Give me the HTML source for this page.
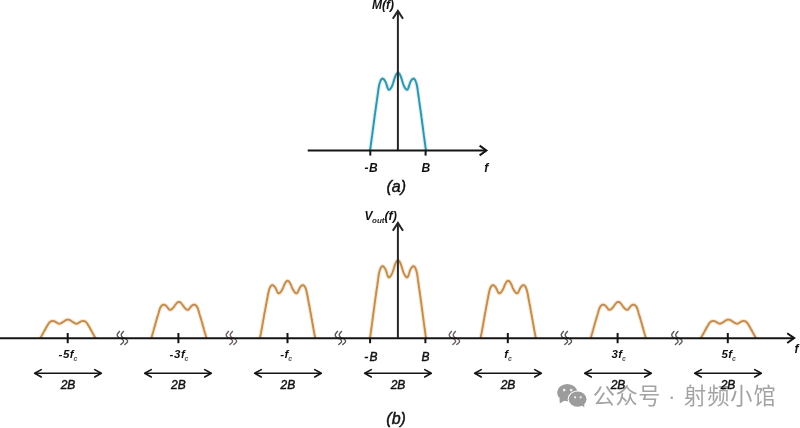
<!DOCTYPE html>
<html><head><meta charset="utf-8"><style>
html,body{margin:0;padding:0;background:#ffffff;}
body{width:800px;height:428px;overflow:hidden;position:relative;}
svg{position:absolute;left:0;top:0;filter:blur(0.35px);}
.t{font-family:"Liberation Sans",Arial,sans-serif;font-style:italic;fill:#111;}
.r{stroke:#111;stroke-width:0.45px;}
.b{font-weight:bold;}
.wm{font-family:"Liberation Sans","Noto Sans CJK SC",sans-serif;fill:#a3a3a3;}
</style></head><body>
<svg width="800" height="428" viewBox="0 0 800 428">
<rect width="800" height="428" fill="#ffffff"/>

<g fill="#9c9c9c">
  <ellipse cx="567.3" cy="392.6" rx="10.2" ry="8.7"/>
  <path d="M559.5,398.5 L559.8,403.4 L564.8,400.2 Z"/>
</g>
<ellipse cx="577.6" cy="399.2" rx="9.9" ry="8.6" fill="#ffffff"/>
<g fill="#9c9c9c">
  <ellipse cx="577.6" cy="399.2" rx="8.9" ry="7.6"/>
  <path d="M581.5,405 L584.3,407.6 L584.2,402.5 Z"/>
</g>
<g fill="#f2f2f2">
  <circle cx="564.2" cy="390.1" r="1.3"/>
  <circle cx="571.2" cy="390.1" r="1.3"/>
  <circle cx="575.1" cy="397.3" r="1.1"/>
  <circle cx="580.7" cy="397.3" r="1.1"/>
</g>

<text class="wm" y="404.4" font-size="22.2" letter-spacing="0.5"><tspan x="592.8">公众号</tspan><tspan x="668.1">·</tspan><tspan x="684" letter-spacing="1.0">射频小馆</tspan></text>
<path d="M370.0,150.5 L370.2,149.5 L370.3,148.4 L370.5,147.3 L370.6,146.3 L370.8,145.2 L370.9,144.2 L371.1,143.1 L371.2,142.1 L371.4,141.0 L371.5,140.0 L371.6,138.9 L371.8,137.8 L371.9,136.8 L372.1,135.7 L372.2,134.6 L372.4,133.6 L372.5,132.5 L372.6,131.5 L372.8,130.4 L372.9,129.3 L373.1,128.3 L373.2,127.2 L373.3,126.1 L373.5,125.1 L373.6,124.0 L373.8,123.0 L373.9,121.9 L374.0,120.8 L374.2,119.8 L374.3,118.7 L374.5,117.7 L374.6,116.6 L374.7,115.5 L374.9,114.5 L375.0,113.4 L375.2,112.4 L375.3,111.3 L375.5,110.3 L375.6,109.2 L375.8,108.2 L375.9,107.1 L376.1,106.1 L376.2,105.0 L376.4,104.0 L376.5,102.9 L376.7,101.9 L376.8,100.8 L377.0,99.7 L377.1,98.7 L377.3,97.6 L377.4,96.6 L377.6,95.5 L377.7,94.4 L377.9,93.3 L378.0,92.2 L378.2,91.2 L378.3,90.1 L378.5,89.0 L378.6,88.0 L378.8,87.0 L379.0,86.0 L379.2,85.0 L379.4,84.0 L379.7,83.0 L380.1,82.0 L380.5,80.8 L381.1,79.7 L381.8,78.8 L382.6,78.5 L383.5,79.0 L384.3,79.9 L385.0,80.9 L385.5,81.8 L385.9,82.7 L386.2,83.6 L386.6,84.7 L386.9,85.9 L387.3,87.2 L387.8,88.4 L388.3,89.4 L388.9,89.8 L389.6,89.6 L390.4,88.8 L391.1,87.7 L391.7,86.7 L392.2,85.7 L392.6,84.7 L392.9,83.8 L393.2,82.8 L393.5,81.9 L393.8,80.9 L394.1,79.8 L394.5,78.6 L394.9,77.4 L395.4,76.1 L395.9,75.0 L396.5,73.9 L397.1,73.2 L397.7,72.8 L398.3,72.8 L398.9,73.2 L399.5,73.9 L400.1,75.0 L400.6,76.1 L401.1,77.4 L401.5,78.6 L401.9,79.8 L402.2,80.9 L402.5,81.9 L402.8,82.8 L403.1,83.8 L403.4,84.7 L403.8,85.7 L404.3,86.7 L404.9,87.7 L405.6,88.8 L406.4,89.6 L407.1,89.8 L407.7,89.4 L408.2,88.4 L408.7,87.2 L409.1,85.9 L409.4,84.7 L409.8,83.6 L410.1,82.7 L410.5,81.8 L411.0,80.9 L411.7,79.9 L412.5,79.0 L413.4,78.5 L414.2,78.8 L414.9,79.7 L415.5,80.8 L415.9,82.0 L416.3,83.0 L416.6,84.0 L416.8,85.0 L417.0,86.0 L417.2,87.0 L417.4,88.0 L417.5,89.0 L417.7,90.1 L417.8,91.2 L418.0,92.2 L418.1,93.3 L418.3,94.4 L418.4,95.5 L418.6,96.6 L418.7,97.6 L418.9,98.7 L419.0,99.7 L419.2,100.8 L419.3,101.9 L419.5,102.9 L419.6,104.0 L419.8,105.0 L419.9,106.1 L420.1,107.1 L420.2,108.2 L420.4,109.2 L420.5,110.3 L420.7,111.3 L420.8,112.4 L421.0,113.4 L421.1,114.5 L421.3,115.5 L421.4,116.6 L421.5,117.7 L421.7,118.7 L421.8,119.8 L422.0,120.8 L422.1,121.9 L422.2,123.0 L422.4,124.0 L422.5,125.1 L422.7,126.1 L422.8,127.2 L422.9,128.3 L423.1,129.3 L423.2,130.4 L423.4,131.5 L423.5,132.5 L423.6,133.6 L423.8,134.6 L423.9,135.7 L424.1,136.8 L424.2,137.8 L424.4,138.9 L424.5,140.0 L424.6,141.0 L424.8,142.1 L424.9,143.1 L425.1,144.2 L425.2,145.2 L425.4,146.3 L425.5,147.3 L425.7,148.4 L425.8,149.5 L426.0,150.5" fill="none" stroke="#d2f2f8" stroke-width="4.2" stroke-linejoin="round"/>
<path d="M370.0,150.5 L370.2,149.5 L370.3,148.4 L370.5,147.3 L370.6,146.3 L370.8,145.2 L370.9,144.2 L371.1,143.1 L371.2,142.1 L371.4,141.0 L371.5,140.0 L371.6,138.9 L371.8,137.8 L371.9,136.8 L372.1,135.7 L372.2,134.6 L372.4,133.6 L372.5,132.5 L372.6,131.5 L372.8,130.4 L372.9,129.3 L373.1,128.3 L373.2,127.2 L373.3,126.1 L373.5,125.1 L373.6,124.0 L373.8,123.0 L373.9,121.9 L374.0,120.8 L374.2,119.8 L374.3,118.7 L374.5,117.7 L374.6,116.6 L374.7,115.5 L374.9,114.5 L375.0,113.4 L375.2,112.4 L375.3,111.3 L375.5,110.3 L375.6,109.2 L375.8,108.2 L375.9,107.1 L376.1,106.1 L376.2,105.0 L376.4,104.0 L376.5,102.9 L376.7,101.9 L376.8,100.8 L377.0,99.7 L377.1,98.7 L377.3,97.6 L377.4,96.6 L377.6,95.5 L377.7,94.4 L377.9,93.3 L378.0,92.2 L378.2,91.2 L378.3,90.1 L378.5,89.0 L378.6,88.0 L378.8,87.0 L379.0,86.0 L379.2,85.0 L379.4,84.0 L379.7,83.0 L380.1,82.0 L380.5,80.8 L381.1,79.7 L381.8,78.8 L382.6,78.5 L383.5,79.0 L384.3,79.9 L385.0,80.9 L385.5,81.8 L385.9,82.7 L386.2,83.6 L386.6,84.7 L386.9,85.9 L387.3,87.2 L387.8,88.4 L388.3,89.4 L388.9,89.8 L389.6,89.6 L390.4,88.8 L391.1,87.7 L391.7,86.7 L392.2,85.7 L392.6,84.7 L392.9,83.8 L393.2,82.8 L393.5,81.9 L393.8,80.9 L394.1,79.8 L394.5,78.6 L394.9,77.4 L395.4,76.1 L395.9,75.0 L396.5,73.9 L397.1,73.2 L397.7,72.8 L398.3,72.8 L398.9,73.2 L399.5,73.9 L400.1,75.0 L400.6,76.1 L401.1,77.4 L401.5,78.6 L401.9,79.8 L402.2,80.9 L402.5,81.9 L402.8,82.8 L403.1,83.8 L403.4,84.7 L403.8,85.7 L404.3,86.7 L404.9,87.7 L405.6,88.8 L406.4,89.6 L407.1,89.8 L407.7,89.4 L408.2,88.4 L408.7,87.2 L409.1,85.9 L409.4,84.7 L409.8,83.6 L410.1,82.7 L410.5,81.8 L411.0,80.9 L411.7,79.9 L412.5,79.0 L413.4,78.5 L414.2,78.8 L414.9,79.7 L415.5,80.8 L415.9,82.0 L416.3,83.0 L416.6,84.0 L416.8,85.0 L417.0,86.0 L417.2,87.0 L417.4,88.0 L417.5,89.0 L417.7,90.1 L417.8,91.2 L418.0,92.2 L418.1,93.3 L418.3,94.4 L418.4,95.5 L418.6,96.6 L418.7,97.6 L418.9,98.7 L419.0,99.7 L419.2,100.8 L419.3,101.9 L419.5,102.9 L419.6,104.0 L419.8,105.0 L419.9,106.1 L420.1,107.1 L420.2,108.2 L420.4,109.2 L420.5,110.3 L420.7,111.3 L420.8,112.4 L421.0,113.4 L421.1,114.5 L421.3,115.5 L421.4,116.6 L421.5,117.7 L421.7,118.7 L421.8,119.8 L422.0,120.8 L422.1,121.9 L422.2,123.0 L422.4,124.0 L422.5,125.1 L422.7,126.1 L422.8,127.2 L422.9,128.3 L423.1,129.3 L423.2,130.4 L423.4,131.5 L423.5,132.5 L423.6,133.6 L423.8,134.6 L423.9,135.7 L424.1,136.8 L424.2,137.8 L424.4,138.9 L424.5,140.0 L424.6,141.0 L424.8,142.1 L424.9,143.1 L425.1,144.2 L425.2,145.2 L425.4,146.3 L425.5,147.3 L425.7,148.4 L425.8,149.5 L426.0,150.5" fill="none" stroke="#3592a8" stroke-width="1.95" stroke-linejoin="round"/>
<line x1="397.9" y1="150.5" x2="397.9" y2="11.5" stroke="#262626" stroke-width="2.0"/>
<polyline points="392.8,18.8 397.9,10.9 403.0,18.8" fill="none" stroke="#262626" stroke-width="2.0"/>
<line x1="307.7" y1="150.5" x2="485.5" y2="150.5" stroke="#141414" stroke-width="2.0"/>
<polyline points="479.6,145.6 486.4,150.5 479.6,155.4" fill="none" stroke="#141414" stroke-width="2.0"/>
<line x1="370.3" y1="150.5" x2="370.3" y2="155.6" stroke="#141414" stroke-width="2.0"/>
<line x1="425.6" y1="150.5" x2="425.6" y2="155.6" stroke="#141414" stroke-width="2.0"/>
<path d="M40.3,338.0 L40.5,337.7 L40.7,337.3 L40.9,337.0 L41.1,336.7 L41.3,336.3 L41.5,336.0 L41.7,335.7 L41.9,335.3 L42.1,335.0 L42.3,334.7 L42.5,334.3 L42.6,334.0 L42.8,333.6 L43.0,333.3 L43.2,333.0 L43.4,332.6 L43.6,332.3 L43.8,331.9 L43.9,331.6 L44.1,331.2 L44.3,330.9 L44.5,330.6 L44.7,330.2 L44.9,329.9 L45.1,329.6 L45.3,329.2 L45.5,328.9 L45.6,328.5 L45.8,328.2 L46.0,327.9 L46.2,327.5 L46.4,327.2 L46.6,326.9 L46.8,326.5 L47.0,326.2 L47.2,325.9 L47.4,325.5 L47.6,325.2 L47.8,324.9 L48.0,324.5 L48.2,324.2 L48.4,323.9 L48.6,323.5 L48.8,323.2 L49.0,322.9 L49.3,322.6 L49.6,322.3 L49.9,322.1 L50.2,321.8 L50.5,321.6 L50.8,321.4 L51.2,321.3 L51.6,321.1 L51.9,321.1 L52.3,321.0 L52.7,321.0 L53.1,321.0 L53.5,321.1 L53.8,321.1 L54.2,321.2 L54.6,321.4 L54.9,321.5 L55.3,321.7 L55.6,321.9 L55.9,322.1 L56.3,322.3 L56.6,322.5 L56.9,322.7 L57.3,322.9 L57.6,323.1 L58.0,323.3 L58.3,323.5 L58.7,323.6 L59.0,323.6 L59.4,323.7 L59.8,323.6 L60.2,323.5 L60.5,323.4 L60.9,323.2 L61.3,323.1 L61.6,322.9 L62.0,322.7 L62.3,322.5 L62.6,322.3 L62.9,322.1 L63.2,321.8 L63.5,321.6 L63.9,321.4 L64.2,321.2 L64.5,321.0 L64.8,320.7 L65.2,320.5 L65.5,320.3 L65.9,320.1 L66.3,320.0 L66.6,319.8 L67.0,319.7 L67.3,319.6 L67.7,319.6 L68.1,319.6 L68.5,319.6 L68.8,319.7 L69.2,319.8 L69.5,320.0 L69.9,320.1 L70.3,320.3 L70.6,320.5 L71.0,320.7 L71.3,321.0 L71.6,321.2 L71.9,321.4 L72.3,321.6 L72.6,321.8 L72.9,322.1 L73.2,322.3 L73.5,322.5 L73.8,322.7 L74.2,322.9 L74.5,323.1 L74.9,323.2 L75.3,323.4 L75.6,323.5 L76.0,323.6 L76.4,323.7 L76.8,323.6 L77.1,323.6 L77.5,323.5 L77.8,323.3 L78.2,323.1 L78.5,322.9 L78.9,322.7 L79.2,322.5 L79.5,322.3 L79.9,322.1 L80.2,321.9 L80.5,321.7 L80.9,321.5 L81.2,321.4 L81.6,321.2 L82.0,321.1 L82.3,321.1 L82.7,321.0 L83.1,321.0 L83.5,321.0 L83.9,321.1 L84.2,321.1 L84.6,321.3 L85.0,321.4 L85.3,321.6 L85.6,321.8 L85.9,322.1 L86.2,322.3 L86.5,322.6 L86.8,322.9 L87.0,323.2 L87.2,323.5 L87.4,323.9 L87.6,324.2 L87.8,324.5 L88.0,324.9 L88.2,325.2 L88.4,325.5 L88.6,325.9 L88.8,326.2 L89.0,326.5 L89.2,326.9 L89.4,327.2 L89.6,327.5 L89.8,327.9 L90.0,328.2 L90.2,328.5 L90.3,328.9 L90.5,329.2 L90.7,329.6 L90.9,329.9 L91.1,330.2 L91.3,330.6 L91.5,330.9 L91.7,331.2 L91.9,331.6 L92.0,331.9 L92.2,332.3 L92.4,332.6 L92.6,333.0 L92.8,333.3 L93.0,333.6 L93.2,334.0 L93.3,334.3 L93.5,334.7 L93.7,335.0 L93.9,335.3 L94.1,335.7 L94.3,336.0 L94.5,336.3 L94.7,336.7 L94.9,337.0 L95.1,337.3 L95.3,337.7 L95.5,338.0" fill="none" stroke="#fbe9cf" stroke-width="4.2" stroke-linejoin="round"/>
<path d="M40.3,338.0 L40.5,337.7 L40.7,337.3 L40.9,337.0 L41.1,336.7 L41.3,336.3 L41.5,336.0 L41.7,335.7 L41.9,335.3 L42.1,335.0 L42.3,334.7 L42.5,334.3 L42.6,334.0 L42.8,333.6 L43.0,333.3 L43.2,333.0 L43.4,332.6 L43.6,332.3 L43.8,331.9 L43.9,331.6 L44.1,331.2 L44.3,330.9 L44.5,330.6 L44.7,330.2 L44.9,329.9 L45.1,329.6 L45.3,329.2 L45.5,328.9 L45.6,328.5 L45.8,328.2 L46.0,327.9 L46.2,327.5 L46.4,327.2 L46.6,326.9 L46.8,326.5 L47.0,326.2 L47.2,325.9 L47.4,325.5 L47.6,325.2 L47.8,324.9 L48.0,324.5 L48.2,324.2 L48.4,323.9 L48.6,323.5 L48.8,323.2 L49.0,322.9 L49.3,322.6 L49.6,322.3 L49.9,322.1 L50.2,321.8 L50.5,321.6 L50.8,321.4 L51.2,321.3 L51.6,321.1 L51.9,321.1 L52.3,321.0 L52.7,321.0 L53.1,321.0 L53.5,321.1 L53.8,321.1 L54.2,321.2 L54.6,321.4 L54.9,321.5 L55.3,321.7 L55.6,321.9 L55.9,322.1 L56.3,322.3 L56.6,322.5 L56.9,322.7 L57.3,322.9 L57.6,323.1 L58.0,323.3 L58.3,323.5 L58.7,323.6 L59.0,323.6 L59.4,323.7 L59.8,323.6 L60.2,323.5 L60.5,323.4 L60.9,323.2 L61.3,323.1 L61.6,322.9 L62.0,322.7 L62.3,322.5 L62.6,322.3 L62.9,322.1 L63.2,321.8 L63.5,321.6 L63.9,321.4 L64.2,321.2 L64.5,321.0 L64.8,320.7 L65.2,320.5 L65.5,320.3 L65.9,320.1 L66.3,320.0 L66.6,319.8 L67.0,319.7 L67.3,319.6 L67.7,319.6 L68.1,319.6 L68.5,319.6 L68.8,319.7 L69.2,319.8 L69.5,320.0 L69.9,320.1 L70.3,320.3 L70.6,320.5 L71.0,320.7 L71.3,321.0 L71.6,321.2 L71.9,321.4 L72.3,321.6 L72.6,321.8 L72.9,322.1 L73.2,322.3 L73.5,322.5 L73.8,322.7 L74.2,322.9 L74.5,323.1 L74.9,323.2 L75.3,323.4 L75.6,323.5 L76.0,323.6 L76.4,323.7 L76.8,323.6 L77.1,323.6 L77.5,323.5 L77.8,323.3 L78.2,323.1 L78.5,322.9 L78.9,322.7 L79.2,322.5 L79.5,322.3 L79.9,322.1 L80.2,321.9 L80.5,321.7 L80.9,321.5 L81.2,321.4 L81.6,321.2 L82.0,321.1 L82.3,321.1 L82.7,321.0 L83.1,321.0 L83.5,321.0 L83.9,321.1 L84.2,321.1 L84.6,321.3 L85.0,321.4 L85.3,321.6 L85.6,321.8 L85.9,322.1 L86.2,322.3 L86.5,322.6 L86.8,322.9 L87.0,323.2 L87.2,323.5 L87.4,323.9 L87.6,324.2 L87.8,324.5 L88.0,324.9 L88.2,325.2 L88.4,325.5 L88.6,325.9 L88.8,326.2 L89.0,326.5 L89.2,326.9 L89.4,327.2 L89.6,327.5 L89.8,327.9 L90.0,328.2 L90.2,328.5 L90.3,328.9 L90.5,329.2 L90.7,329.6 L90.9,329.9 L91.1,330.2 L91.3,330.6 L91.5,330.9 L91.7,331.2 L91.9,331.6 L92.0,331.9 L92.2,332.3 L92.4,332.6 L92.6,333.0 L92.8,333.3 L93.0,333.6 L93.2,334.0 L93.3,334.3 L93.5,334.7 L93.7,335.0 L93.9,335.3 L94.1,335.7 L94.3,336.0 L94.5,336.3 L94.7,336.7 L94.9,337.0 L95.1,337.3 L95.3,337.7 L95.5,338.0" fill="none" stroke="#bf8d55" stroke-width="1.95" stroke-linejoin="round"/>
<path d="M151.3,338.0 L151.5,337.5 L151.6,336.9 L151.8,336.4 L152.0,335.8 L152.1,335.3 L152.3,334.7 L152.5,334.2 L152.6,333.6 L152.8,333.1 L153.0,332.5 L153.1,332.0 L153.3,331.4 L153.4,330.9 L153.6,330.3 L153.7,329.8 L153.9,329.2 L154.0,328.7 L154.2,328.1 L154.3,327.6 L154.5,327.0 L154.7,326.5 L154.8,325.9 L155.0,325.4 L155.1,324.8 L155.3,324.3 L155.4,323.7 L155.6,323.2 L155.7,322.6 L155.9,322.1 L156.0,321.5 L156.2,321.0 L156.4,320.4 L156.5,319.9 L156.7,319.3 L156.9,318.8 L157.0,318.2 L157.2,317.7 L157.4,317.1 L157.5,316.6 L157.7,316.0 L157.9,315.5 L158.0,314.9 L158.2,314.4 L158.4,313.8 L158.5,313.3 L158.7,312.7 L158.8,312.2 L159.0,311.6 L159.1,311.1 L159.3,310.5 L159.5,310.0 L159.6,309.4 L159.8,308.9 L160.0,308.4 L160.3,307.8 L160.5,307.3 L160.8,306.8 L161.1,306.4 L161.5,305.9 L161.9,305.5 L162.3,305.1 L162.8,304.8 L163.4,304.6 L163.9,304.6 L164.5,304.8 L165.0,305.0 L165.5,305.3 L165.9,305.7 L166.3,306.0 L166.7,306.4 L167.1,306.9 L167.5,307.3 L167.8,307.8 L168.2,308.3 L168.6,308.8 L169.0,309.3 L169.5,309.6 L169.9,309.8 L170.4,309.8 L170.9,309.7 L171.5,309.4 L171.9,309.0 L172.4,308.6 L172.8,308.2 L173.2,307.7 L173.5,307.3 L173.9,306.9 L174.2,306.4 L174.5,306.0 L174.8,305.5 L175.2,305.0 L175.6,304.5 L176.0,304.0 L176.4,303.5 L176.8,303.0 L177.3,302.6 L177.7,302.3 L178.2,302.0 L178.7,301.9 L179.1,301.9 L179.6,302.0 L180.1,302.3 L180.5,302.6 L181.0,303.0 L181.4,303.5 L181.8,304.0 L182.2,304.5 L182.6,305.0 L183.0,305.5 L183.3,306.0 L183.6,306.4 L183.9,306.9 L184.3,307.3 L184.6,307.7 L185.0,308.2 L185.4,308.6 L185.9,309.0 L186.3,309.4 L186.9,309.7 L187.4,309.8 L187.9,309.8 L188.3,309.6 L188.8,309.3 L189.2,308.8 L189.6,308.3 L190.0,307.8 L190.3,307.3 L190.7,306.9 L191.1,306.4 L191.5,306.0 L191.9,305.7 L192.3,305.3 L192.8,305.0 L193.3,304.8 L193.9,304.6 L194.4,304.6 L195.0,304.8 L195.5,305.1 L195.9,305.5 L196.3,305.9 L196.7,306.4 L197.0,306.8 L197.3,307.3 L197.5,307.8 L197.8,308.4 L198.0,308.9 L198.2,309.4 L198.3,310.0 L198.5,310.5 L198.7,311.1 L198.8,311.6 L199.0,312.2 L199.1,312.7 L199.3,313.3 L199.4,313.8 L199.6,314.4 L199.8,314.9 L199.9,315.5 L200.1,316.0 L200.3,316.6 L200.4,317.1 L200.6,317.7 L200.8,318.2 L200.9,318.8 L201.1,319.3 L201.3,319.9 L201.4,320.4 L201.6,321.0 L201.8,321.5 L201.9,322.1 L202.1,322.6 L202.2,323.2 L202.4,323.7 L202.5,324.3 L202.7,324.8 L202.8,325.4 L203.0,325.9 L203.1,326.5 L203.3,327.0 L203.5,327.6 L203.6,328.1 L203.8,328.7 L203.9,329.2 L204.1,329.8 L204.2,330.3 L204.4,330.9 L204.5,331.4 L204.7,332.0 L204.8,332.5 L205.0,333.1 L205.2,333.6 L205.3,334.2 L205.5,334.7 L205.7,335.3 L205.8,335.8 L206.0,336.4 L206.2,336.9 L206.3,337.5 L206.5,338.0" fill="none" stroke="#fbe9cf" stroke-width="4.2" stroke-linejoin="round"/>
<path d="M151.3,338.0 L151.5,337.5 L151.6,336.9 L151.8,336.4 L152.0,335.8 L152.1,335.3 L152.3,334.7 L152.5,334.2 L152.6,333.6 L152.8,333.1 L153.0,332.5 L153.1,332.0 L153.3,331.4 L153.4,330.9 L153.6,330.3 L153.7,329.8 L153.9,329.2 L154.0,328.7 L154.2,328.1 L154.3,327.6 L154.5,327.0 L154.7,326.5 L154.8,325.9 L155.0,325.4 L155.1,324.8 L155.3,324.3 L155.4,323.7 L155.6,323.2 L155.7,322.6 L155.9,322.1 L156.0,321.5 L156.2,321.0 L156.4,320.4 L156.5,319.9 L156.7,319.3 L156.9,318.8 L157.0,318.2 L157.2,317.7 L157.4,317.1 L157.5,316.6 L157.7,316.0 L157.9,315.5 L158.0,314.9 L158.2,314.4 L158.4,313.8 L158.5,313.3 L158.7,312.7 L158.8,312.2 L159.0,311.6 L159.1,311.1 L159.3,310.5 L159.5,310.0 L159.6,309.4 L159.8,308.9 L160.0,308.4 L160.3,307.8 L160.5,307.3 L160.8,306.8 L161.1,306.4 L161.5,305.9 L161.9,305.5 L162.3,305.1 L162.8,304.8 L163.4,304.6 L163.9,304.6 L164.5,304.8 L165.0,305.0 L165.5,305.3 L165.9,305.7 L166.3,306.0 L166.7,306.4 L167.1,306.9 L167.5,307.3 L167.8,307.8 L168.2,308.3 L168.6,308.8 L169.0,309.3 L169.5,309.6 L169.9,309.8 L170.4,309.8 L170.9,309.7 L171.5,309.4 L171.9,309.0 L172.4,308.6 L172.8,308.2 L173.2,307.7 L173.5,307.3 L173.9,306.9 L174.2,306.4 L174.5,306.0 L174.8,305.5 L175.2,305.0 L175.6,304.5 L176.0,304.0 L176.4,303.5 L176.8,303.0 L177.3,302.6 L177.7,302.3 L178.2,302.0 L178.7,301.9 L179.1,301.9 L179.6,302.0 L180.1,302.3 L180.5,302.6 L181.0,303.0 L181.4,303.5 L181.8,304.0 L182.2,304.5 L182.6,305.0 L183.0,305.5 L183.3,306.0 L183.6,306.4 L183.9,306.9 L184.3,307.3 L184.6,307.7 L185.0,308.2 L185.4,308.6 L185.9,309.0 L186.3,309.4 L186.9,309.7 L187.4,309.8 L187.9,309.8 L188.3,309.6 L188.8,309.3 L189.2,308.8 L189.6,308.3 L190.0,307.8 L190.3,307.3 L190.7,306.9 L191.1,306.4 L191.5,306.0 L191.9,305.7 L192.3,305.3 L192.8,305.0 L193.3,304.8 L193.9,304.6 L194.4,304.6 L195.0,304.8 L195.5,305.1 L195.9,305.5 L196.3,305.9 L196.7,306.4 L197.0,306.8 L197.3,307.3 L197.5,307.8 L197.8,308.4 L198.0,308.9 L198.2,309.4 L198.3,310.0 L198.5,310.5 L198.7,311.1 L198.8,311.6 L199.0,312.2 L199.1,312.7 L199.3,313.3 L199.4,313.8 L199.6,314.4 L199.8,314.9 L199.9,315.5 L200.1,316.0 L200.3,316.6 L200.4,317.1 L200.6,317.7 L200.8,318.2 L200.9,318.8 L201.1,319.3 L201.3,319.9 L201.4,320.4 L201.6,321.0 L201.8,321.5 L201.9,322.1 L202.1,322.6 L202.2,323.2 L202.4,323.7 L202.5,324.3 L202.7,324.8 L202.8,325.4 L203.0,325.9 L203.1,326.5 L203.3,327.0 L203.5,327.6 L203.6,328.1 L203.8,328.7 L203.9,329.2 L204.1,329.8 L204.2,330.3 L204.4,330.9 L204.5,331.4 L204.7,332.0 L204.8,332.5 L205.0,333.1 L205.2,333.6 L205.3,334.2 L205.5,334.7 L205.7,335.3 L205.8,335.8 L206.0,336.4 L206.2,336.9 L206.3,337.5 L206.5,338.0" fill="none" stroke="#bf8d55" stroke-width="1.95" stroke-linejoin="round"/>
<path d="M260.0,338.0 L260.2,337.2 L260.3,336.4 L260.5,335.6 L260.6,334.8 L260.8,334.0 L260.9,333.2 L261.1,332.4 L261.2,331.6 L261.4,330.8 L261.5,330.0 L261.7,329.2 L261.8,328.4 L262.0,327.6 L262.1,326.8 L262.3,326.0 L262.4,325.2 L262.5,324.3 L262.7,323.5 L262.8,322.7 L263.0,321.9 L263.1,321.1 L263.2,320.3 L263.4,319.5 L263.5,318.7 L263.7,317.9 L263.8,317.1 L264.0,316.3 L264.1,315.5 L264.2,314.7 L264.4,313.9 L264.5,313.1 L264.7,312.3 L264.8,311.5 L265.0,310.7 L265.1,309.9 L265.3,309.0 L265.4,308.2 L265.6,307.4 L265.7,306.6 L265.9,305.8 L266.0,305.1 L266.2,304.3 L266.3,303.5 L266.5,302.7 L266.6,301.9 L266.8,301.0 L266.9,300.2 L267.1,299.4 L267.3,298.6 L267.4,297.8 L267.6,297.0 L267.7,296.2 L267.8,295.4 L268.0,294.6 L268.2,293.8 L268.3,293.0 L268.5,292.2 L268.7,291.4 L268.9,290.6 L269.1,289.8 L269.3,289.1 L269.6,288.3 L269.9,287.6 L270.3,286.8 L270.9,286.0 L271.5,285.4 L272.1,285.1 L272.8,285.2 L273.6,285.7 L274.2,286.3 L274.8,286.9 L275.2,287.5 L275.6,288.2 L276.0,288.9 L276.3,289.7 L276.7,290.5 L277.1,291.5 L277.5,292.3 L278.0,293.0 L278.6,293.3 L279.2,293.3 L279.8,292.9 L280.5,292.2 L281.0,291.5 L281.5,290.8 L282.0,290.1 L282.3,289.4 L282.6,288.7 L283.0,288.0 L283.3,287.3 L283.6,286.5 L283.9,285.7 L284.3,284.8 L284.7,283.9 L285.2,283.1 L285.7,282.3 L286.2,281.6 L286.8,281.1 L287.3,280.8 L287.9,280.8 L288.4,281.1 L289.0,281.6 L289.5,282.3 L290.0,283.1 L290.5,283.9 L290.9,284.8 L291.3,285.7 L291.6,286.5 L291.9,287.3 L292.2,288.0 L292.6,288.7 L292.9,289.4 L293.2,290.1 L293.7,290.8 L294.2,291.5 L294.7,292.2 L295.4,292.9 L296.0,293.3 L296.6,293.3 L297.2,293.0 L297.7,292.3 L298.1,291.5 L298.5,290.5 L298.9,289.7 L299.2,288.9 L299.6,288.2 L300.0,287.5 L300.4,286.9 L301.0,286.3 L301.6,285.7 L302.4,285.2 L303.1,285.1 L303.7,285.4 L304.3,286.0 L304.9,286.8 L305.3,287.6 L305.6,288.3 L305.9,289.1 L306.1,289.8 L306.3,290.6 L306.5,291.4 L306.7,292.2 L306.9,293.0 L307.0,293.8 L307.2,294.6 L307.4,295.4 L307.5,296.2 L307.6,297.0 L307.8,297.8 L307.9,298.6 L308.1,299.4 L308.3,300.2 L308.4,301.0 L308.6,301.9 L308.7,302.7 L308.9,303.5 L309.0,304.3 L309.2,305.1 L309.3,305.8 L309.5,306.6 L309.6,307.4 L309.8,308.2 L309.9,309.0 L310.1,309.9 L310.2,310.7 L310.4,311.5 L310.5,312.3 L310.7,313.1 L310.8,313.9 L311.0,314.7 L311.1,315.5 L311.2,316.3 L311.4,317.1 L311.5,317.9 L311.7,318.7 L311.8,319.5 L312.0,320.3 L312.1,321.1 L312.2,321.9 L312.4,322.7 L312.5,323.5 L312.7,324.3 L312.8,325.2 L312.9,326.0 L313.1,326.8 L313.2,327.6 L313.4,328.4 L313.5,329.2 L313.7,330.0 L313.8,330.8 L314.0,331.6 L314.1,332.4 L314.3,333.2 L314.4,334.0 L314.6,334.8 L314.7,335.6 L314.9,336.4 L315.0,337.2 L315.2,338.0" fill="none" stroke="#fbe9cf" stroke-width="4.2" stroke-linejoin="round"/>
<path d="M260.0,338.0 L260.2,337.2 L260.3,336.4 L260.5,335.6 L260.6,334.8 L260.8,334.0 L260.9,333.2 L261.1,332.4 L261.2,331.6 L261.4,330.8 L261.5,330.0 L261.7,329.2 L261.8,328.4 L262.0,327.6 L262.1,326.8 L262.3,326.0 L262.4,325.2 L262.5,324.3 L262.7,323.5 L262.8,322.7 L263.0,321.9 L263.1,321.1 L263.2,320.3 L263.4,319.5 L263.5,318.7 L263.7,317.9 L263.8,317.1 L264.0,316.3 L264.1,315.5 L264.2,314.7 L264.4,313.9 L264.5,313.1 L264.7,312.3 L264.8,311.5 L265.0,310.7 L265.1,309.9 L265.3,309.0 L265.4,308.2 L265.6,307.4 L265.7,306.6 L265.9,305.8 L266.0,305.1 L266.2,304.3 L266.3,303.5 L266.5,302.7 L266.6,301.9 L266.8,301.0 L266.9,300.2 L267.1,299.4 L267.3,298.6 L267.4,297.8 L267.6,297.0 L267.7,296.2 L267.8,295.4 L268.0,294.6 L268.2,293.8 L268.3,293.0 L268.5,292.2 L268.7,291.4 L268.9,290.6 L269.1,289.8 L269.3,289.1 L269.6,288.3 L269.9,287.6 L270.3,286.8 L270.9,286.0 L271.5,285.4 L272.1,285.1 L272.8,285.2 L273.6,285.7 L274.2,286.3 L274.8,286.9 L275.2,287.5 L275.6,288.2 L276.0,288.9 L276.3,289.7 L276.7,290.5 L277.1,291.5 L277.5,292.3 L278.0,293.0 L278.6,293.3 L279.2,293.3 L279.8,292.9 L280.5,292.2 L281.0,291.5 L281.5,290.8 L282.0,290.1 L282.3,289.4 L282.6,288.7 L283.0,288.0 L283.3,287.3 L283.6,286.5 L283.9,285.7 L284.3,284.8 L284.7,283.9 L285.2,283.1 L285.7,282.3 L286.2,281.6 L286.8,281.1 L287.3,280.8 L287.9,280.8 L288.4,281.1 L289.0,281.6 L289.5,282.3 L290.0,283.1 L290.5,283.9 L290.9,284.8 L291.3,285.7 L291.6,286.5 L291.9,287.3 L292.2,288.0 L292.6,288.7 L292.9,289.4 L293.2,290.1 L293.7,290.8 L294.2,291.5 L294.7,292.2 L295.4,292.9 L296.0,293.3 L296.6,293.3 L297.2,293.0 L297.7,292.3 L298.1,291.5 L298.5,290.5 L298.9,289.7 L299.2,288.9 L299.6,288.2 L300.0,287.5 L300.4,286.9 L301.0,286.3 L301.6,285.7 L302.4,285.2 L303.1,285.1 L303.7,285.4 L304.3,286.0 L304.9,286.8 L305.3,287.6 L305.6,288.3 L305.9,289.1 L306.1,289.8 L306.3,290.6 L306.5,291.4 L306.7,292.2 L306.9,293.0 L307.0,293.8 L307.2,294.6 L307.4,295.4 L307.5,296.2 L307.6,297.0 L307.8,297.8 L307.9,298.6 L308.1,299.4 L308.3,300.2 L308.4,301.0 L308.6,301.9 L308.7,302.7 L308.9,303.5 L309.0,304.3 L309.2,305.1 L309.3,305.8 L309.5,306.6 L309.6,307.4 L309.8,308.2 L309.9,309.0 L310.1,309.9 L310.2,310.7 L310.4,311.5 L310.5,312.3 L310.7,313.1 L310.8,313.9 L311.0,314.7 L311.1,315.5 L311.2,316.3 L311.4,317.1 L311.5,317.9 L311.7,318.7 L311.8,319.5 L312.0,320.3 L312.1,321.1 L312.2,321.9 L312.4,322.7 L312.5,323.5 L312.7,324.3 L312.8,325.2 L312.9,326.0 L313.1,326.8 L313.2,327.6 L313.4,328.4 L313.5,329.2 L313.7,330.0 L313.8,330.8 L314.0,331.6 L314.1,332.4 L314.3,333.2 L314.4,334.0 L314.6,334.8 L314.7,335.6 L314.9,336.4 L315.0,337.2 L315.2,338.0" fill="none" stroke="#bf8d55" stroke-width="1.95" stroke-linejoin="round"/>
<path d="M370.0,338.0 L370.2,337.0 L370.3,335.9 L370.5,334.9 L370.6,333.8 L370.8,332.7 L370.9,331.7 L371.1,330.6 L371.2,329.6 L371.4,328.5 L371.5,327.5 L371.6,326.4 L371.8,325.3 L371.9,324.3 L372.1,323.2 L372.2,322.2 L372.4,321.1 L372.5,320.0 L372.6,319.0 L372.8,317.9 L372.9,316.9 L373.1,315.8 L373.2,314.7 L373.3,313.7 L373.5,312.6 L373.6,311.6 L373.8,310.5 L373.9,309.4 L374.0,308.4 L374.2,307.3 L374.3,306.3 L374.5,305.2 L374.6,304.1 L374.7,303.1 L374.9,302.0 L375.0,301.0 L375.2,299.9 L375.3,298.9 L375.5,297.8 L375.6,296.8 L375.8,295.7 L375.9,294.7 L376.1,293.6 L376.2,292.6 L376.4,291.5 L376.5,290.5 L376.7,289.4 L376.8,288.4 L377.0,287.3 L377.1,286.2 L377.3,285.2 L377.4,284.1 L377.6,283.0 L377.7,282.0 L377.9,280.9 L378.0,279.8 L378.2,278.7 L378.3,277.7 L378.5,276.6 L378.6,275.6 L378.8,274.5 L379.0,273.5 L379.2,272.6 L379.4,271.6 L379.7,270.6 L380.1,269.5 L380.5,268.4 L381.1,267.3 L381.8,266.4 L382.6,266.1 L383.5,266.6 L384.3,267.5 L385.0,268.5 L385.5,269.4 L385.9,270.3 L386.2,271.2 L386.6,272.3 L386.9,273.5 L387.3,274.8 L387.8,276.0 L388.3,277.0 L388.9,277.4 L389.6,277.2 L390.4,276.4 L391.1,275.3 L391.7,274.2 L392.2,273.2 L392.6,272.3 L392.9,271.4 L393.2,270.4 L393.5,269.5 L393.8,268.5 L394.1,267.4 L394.5,266.2 L394.9,265.0 L395.4,263.7 L395.9,262.5 L396.5,261.5 L397.1,260.8 L397.7,260.4 L398.3,260.4 L398.9,260.8 L399.5,261.5 L400.1,262.5 L400.6,263.7 L401.1,265.0 L401.5,266.2 L401.9,267.4 L402.2,268.5 L402.5,269.5 L402.8,270.4 L403.1,271.4 L403.4,272.3 L403.8,273.2 L404.3,274.2 L404.9,275.3 L405.6,276.4 L406.4,277.2 L407.1,277.4 L407.7,277.0 L408.2,276.0 L408.7,274.8 L409.1,273.5 L409.4,272.3 L409.8,271.2 L410.1,270.3 L410.5,269.4 L411.0,268.5 L411.7,267.5 L412.5,266.6 L413.4,266.1 L414.2,266.4 L414.9,267.3 L415.5,268.4 L415.9,269.5 L416.3,270.6 L416.6,271.6 L416.8,272.6 L417.0,273.5 L417.2,274.5 L417.4,275.6 L417.5,276.6 L417.7,277.7 L417.8,278.7 L418.0,279.8 L418.1,280.9 L418.3,282.0 L418.4,283.0 L418.6,284.1 L418.7,285.2 L418.9,286.2 L419.0,287.3 L419.2,288.4 L419.3,289.4 L419.5,290.5 L419.6,291.5 L419.8,292.6 L419.9,293.6 L420.1,294.7 L420.2,295.7 L420.4,296.8 L420.5,297.8 L420.7,298.9 L420.8,299.9 L421.0,301.0 L421.1,302.0 L421.3,303.1 L421.4,304.1 L421.5,305.2 L421.7,306.3 L421.8,307.3 L422.0,308.4 L422.1,309.4 L422.2,310.5 L422.4,311.6 L422.5,312.6 L422.7,313.7 L422.8,314.7 L422.9,315.8 L423.1,316.9 L423.2,317.9 L423.4,319.0 L423.5,320.0 L423.6,321.1 L423.8,322.2 L423.9,323.2 L424.1,324.3 L424.2,325.3 L424.4,326.4 L424.5,327.5 L424.6,328.5 L424.8,329.6 L424.9,330.6 L425.1,331.7 L425.2,332.7 L425.4,333.8 L425.5,334.9 L425.7,335.9 L425.8,337.0 L426.0,338.0" fill="none" stroke="#fbe9cf" stroke-width="4.2" stroke-linejoin="round"/>
<path d="M370.0,338.0 L370.2,337.0 L370.3,335.9 L370.5,334.9 L370.6,333.8 L370.8,332.7 L370.9,331.7 L371.1,330.6 L371.2,329.6 L371.4,328.5 L371.5,327.5 L371.6,326.4 L371.8,325.3 L371.9,324.3 L372.1,323.2 L372.2,322.2 L372.4,321.1 L372.5,320.0 L372.6,319.0 L372.8,317.9 L372.9,316.9 L373.1,315.8 L373.2,314.7 L373.3,313.7 L373.5,312.6 L373.6,311.6 L373.8,310.5 L373.9,309.4 L374.0,308.4 L374.2,307.3 L374.3,306.3 L374.5,305.2 L374.6,304.1 L374.7,303.1 L374.9,302.0 L375.0,301.0 L375.2,299.9 L375.3,298.9 L375.5,297.8 L375.6,296.8 L375.8,295.7 L375.9,294.7 L376.1,293.6 L376.2,292.6 L376.4,291.5 L376.5,290.5 L376.7,289.4 L376.8,288.4 L377.0,287.3 L377.1,286.2 L377.3,285.2 L377.4,284.1 L377.6,283.0 L377.7,282.0 L377.9,280.9 L378.0,279.8 L378.2,278.7 L378.3,277.7 L378.5,276.6 L378.6,275.6 L378.8,274.5 L379.0,273.5 L379.2,272.6 L379.4,271.6 L379.7,270.6 L380.1,269.5 L380.5,268.4 L381.1,267.3 L381.8,266.4 L382.6,266.1 L383.5,266.6 L384.3,267.5 L385.0,268.5 L385.5,269.4 L385.9,270.3 L386.2,271.2 L386.6,272.3 L386.9,273.5 L387.3,274.8 L387.8,276.0 L388.3,277.0 L388.9,277.4 L389.6,277.2 L390.4,276.4 L391.1,275.3 L391.7,274.2 L392.2,273.2 L392.6,272.3 L392.9,271.4 L393.2,270.4 L393.5,269.5 L393.8,268.5 L394.1,267.4 L394.5,266.2 L394.9,265.0 L395.4,263.7 L395.9,262.5 L396.5,261.5 L397.1,260.8 L397.7,260.4 L398.3,260.4 L398.9,260.8 L399.5,261.5 L400.1,262.5 L400.6,263.7 L401.1,265.0 L401.5,266.2 L401.9,267.4 L402.2,268.5 L402.5,269.5 L402.8,270.4 L403.1,271.4 L403.4,272.3 L403.8,273.2 L404.3,274.2 L404.9,275.3 L405.6,276.4 L406.4,277.2 L407.1,277.4 L407.7,277.0 L408.2,276.0 L408.7,274.8 L409.1,273.5 L409.4,272.3 L409.8,271.2 L410.1,270.3 L410.5,269.4 L411.0,268.5 L411.7,267.5 L412.5,266.6 L413.4,266.1 L414.2,266.4 L414.9,267.3 L415.5,268.4 L415.9,269.5 L416.3,270.6 L416.6,271.6 L416.8,272.6 L417.0,273.5 L417.2,274.5 L417.4,275.6 L417.5,276.6 L417.7,277.7 L417.8,278.7 L418.0,279.8 L418.1,280.9 L418.3,282.0 L418.4,283.0 L418.6,284.1 L418.7,285.2 L418.9,286.2 L419.0,287.3 L419.2,288.4 L419.3,289.4 L419.5,290.5 L419.6,291.5 L419.8,292.6 L419.9,293.6 L420.1,294.7 L420.2,295.7 L420.4,296.8 L420.5,297.8 L420.7,298.9 L420.8,299.9 L421.0,301.0 L421.1,302.0 L421.3,303.1 L421.4,304.1 L421.5,305.2 L421.7,306.3 L421.8,307.3 L422.0,308.4 L422.1,309.4 L422.2,310.5 L422.4,311.6 L422.5,312.6 L422.7,313.7 L422.8,314.7 L422.9,315.8 L423.1,316.9 L423.2,317.9 L423.4,319.0 L423.5,320.0 L423.6,321.1 L423.8,322.2 L423.9,323.2 L424.1,324.3 L424.2,325.3 L424.4,326.4 L424.5,327.5 L424.6,328.5 L424.8,329.6 L424.9,330.6 L425.1,331.7 L425.2,332.7 L425.4,333.8 L425.5,334.9 L425.7,335.9 L425.8,337.0 L426.0,338.0" fill="none" stroke="#bf8d55" stroke-width="1.95" stroke-linejoin="round"/>
<path d="M480.6,338.0 L480.8,337.2 L480.9,336.4 L481.1,335.6 L481.2,334.8 L481.4,334.0 L481.5,333.2 L481.7,332.4 L481.8,331.6 L482.0,330.8 L482.1,330.0 L482.3,329.2 L482.4,328.4 L482.6,327.6 L482.7,326.8 L482.9,326.0 L483.0,325.2 L483.1,324.3 L483.3,323.5 L483.4,322.7 L483.6,321.9 L483.7,321.1 L483.8,320.3 L484.0,319.5 L484.1,318.7 L484.3,317.9 L484.4,317.1 L484.6,316.3 L484.7,315.5 L484.8,314.7 L485.0,313.9 L485.1,313.1 L485.3,312.3 L485.4,311.5 L485.6,310.7 L485.7,309.9 L485.9,309.0 L486.0,308.2 L486.2,307.4 L486.3,306.6 L486.5,305.8 L486.6,305.1 L486.8,304.3 L486.9,303.5 L487.1,302.7 L487.2,301.9 L487.4,301.0 L487.5,300.2 L487.7,299.4 L487.9,298.6 L488.0,297.8 L488.2,297.0 L488.3,296.2 L488.4,295.4 L488.6,294.6 L488.8,293.8 L488.9,293.0 L489.1,292.2 L489.3,291.4 L489.5,290.6 L489.7,289.8 L489.9,289.1 L490.2,288.3 L490.5,287.6 L490.9,286.8 L491.5,286.0 L492.1,285.4 L492.7,285.1 L493.4,285.2 L494.2,285.7 L494.8,286.3 L495.4,286.9 L495.8,287.5 L496.2,288.2 L496.6,288.9 L496.9,289.7 L497.3,290.5 L497.7,291.5 L498.1,292.3 L498.6,293.0 L499.2,293.3 L499.8,293.3 L500.4,292.9 L501.1,292.2 L501.6,291.5 L502.1,290.8 L502.6,290.1 L502.9,289.4 L503.2,288.7 L503.6,288.0 L503.9,287.3 L504.2,286.5 L504.5,285.7 L504.9,284.8 L505.3,283.9 L505.8,283.1 L506.3,282.3 L506.8,281.6 L507.4,281.1 L507.9,280.8 L508.5,280.8 L509.0,281.1 L509.6,281.6 L510.1,282.3 L510.6,283.1 L511.1,283.9 L511.5,284.8 L511.9,285.7 L512.2,286.5 L512.5,287.3 L512.8,288.0 L513.2,288.7 L513.5,289.4 L513.8,290.1 L514.3,290.8 L514.8,291.5 L515.3,292.2 L516.0,292.9 L516.6,293.3 L517.2,293.3 L517.8,293.0 L518.3,292.3 L518.7,291.5 L519.1,290.5 L519.5,289.7 L519.8,288.9 L520.2,288.2 L520.6,287.5 L521.0,286.9 L521.6,286.3 L522.2,285.7 L523.0,285.2 L523.7,285.1 L524.3,285.4 L524.9,286.0 L525.5,286.8 L525.9,287.6 L526.2,288.3 L526.5,289.1 L526.7,289.8 L526.9,290.6 L527.1,291.4 L527.3,292.2 L527.5,293.0 L527.6,293.8 L527.8,294.6 L528.0,295.4 L528.1,296.2 L528.2,297.0 L528.4,297.8 L528.5,298.6 L528.7,299.4 L528.9,300.2 L529.0,301.0 L529.2,301.9 L529.3,302.7 L529.5,303.5 L529.6,304.3 L529.8,305.1 L529.9,305.8 L530.1,306.6 L530.2,307.4 L530.4,308.2 L530.5,309.0 L530.7,309.9 L530.8,310.7 L531.0,311.5 L531.1,312.3 L531.3,313.1 L531.4,313.9 L531.6,314.7 L531.7,315.5 L531.8,316.3 L532.0,317.1 L532.1,317.9 L532.3,318.7 L532.4,319.5 L532.6,320.3 L532.7,321.1 L532.8,321.9 L533.0,322.7 L533.1,323.5 L533.3,324.3 L533.4,325.2 L533.5,326.0 L533.7,326.8 L533.8,327.6 L534.0,328.4 L534.1,329.2 L534.3,330.0 L534.4,330.8 L534.6,331.6 L534.7,332.4 L534.9,333.2 L535.0,334.0 L535.2,334.8 L535.3,335.6 L535.5,336.4 L535.6,337.2 L535.8,338.0" fill="none" stroke="#fbe9cf" stroke-width="4.2" stroke-linejoin="round"/>
<path d="M480.6,338.0 L480.8,337.2 L480.9,336.4 L481.1,335.6 L481.2,334.8 L481.4,334.0 L481.5,333.2 L481.7,332.4 L481.8,331.6 L482.0,330.8 L482.1,330.0 L482.3,329.2 L482.4,328.4 L482.6,327.6 L482.7,326.8 L482.9,326.0 L483.0,325.2 L483.1,324.3 L483.3,323.5 L483.4,322.7 L483.6,321.9 L483.7,321.1 L483.8,320.3 L484.0,319.5 L484.1,318.7 L484.3,317.9 L484.4,317.1 L484.6,316.3 L484.7,315.5 L484.8,314.7 L485.0,313.9 L485.1,313.1 L485.3,312.3 L485.4,311.5 L485.6,310.7 L485.7,309.9 L485.9,309.0 L486.0,308.2 L486.2,307.4 L486.3,306.6 L486.5,305.8 L486.6,305.1 L486.8,304.3 L486.9,303.5 L487.1,302.7 L487.2,301.9 L487.4,301.0 L487.5,300.2 L487.7,299.4 L487.9,298.6 L488.0,297.8 L488.2,297.0 L488.3,296.2 L488.4,295.4 L488.6,294.6 L488.8,293.8 L488.9,293.0 L489.1,292.2 L489.3,291.4 L489.5,290.6 L489.7,289.8 L489.9,289.1 L490.2,288.3 L490.5,287.6 L490.9,286.8 L491.5,286.0 L492.1,285.4 L492.7,285.1 L493.4,285.2 L494.2,285.7 L494.8,286.3 L495.4,286.9 L495.8,287.5 L496.2,288.2 L496.6,288.9 L496.9,289.7 L497.3,290.5 L497.7,291.5 L498.1,292.3 L498.6,293.0 L499.2,293.3 L499.8,293.3 L500.4,292.9 L501.1,292.2 L501.6,291.5 L502.1,290.8 L502.6,290.1 L502.9,289.4 L503.2,288.7 L503.6,288.0 L503.9,287.3 L504.2,286.5 L504.5,285.7 L504.9,284.8 L505.3,283.9 L505.8,283.1 L506.3,282.3 L506.8,281.6 L507.4,281.1 L507.9,280.8 L508.5,280.8 L509.0,281.1 L509.6,281.6 L510.1,282.3 L510.6,283.1 L511.1,283.9 L511.5,284.8 L511.9,285.7 L512.2,286.5 L512.5,287.3 L512.8,288.0 L513.2,288.7 L513.5,289.4 L513.8,290.1 L514.3,290.8 L514.8,291.5 L515.3,292.2 L516.0,292.9 L516.6,293.3 L517.2,293.3 L517.8,293.0 L518.3,292.3 L518.7,291.5 L519.1,290.5 L519.5,289.7 L519.8,288.9 L520.2,288.2 L520.6,287.5 L521.0,286.9 L521.6,286.3 L522.2,285.7 L523.0,285.2 L523.7,285.1 L524.3,285.4 L524.9,286.0 L525.5,286.8 L525.9,287.6 L526.2,288.3 L526.5,289.1 L526.7,289.8 L526.9,290.6 L527.1,291.4 L527.3,292.2 L527.5,293.0 L527.6,293.8 L527.8,294.6 L528.0,295.4 L528.1,296.2 L528.2,297.0 L528.4,297.8 L528.5,298.6 L528.7,299.4 L528.9,300.2 L529.0,301.0 L529.2,301.9 L529.3,302.7 L529.5,303.5 L529.6,304.3 L529.8,305.1 L529.9,305.8 L530.1,306.6 L530.2,307.4 L530.4,308.2 L530.5,309.0 L530.7,309.9 L530.8,310.7 L531.0,311.5 L531.1,312.3 L531.3,313.1 L531.4,313.9 L531.6,314.7 L531.7,315.5 L531.8,316.3 L532.0,317.1 L532.1,317.9 L532.3,318.7 L532.4,319.5 L532.6,320.3 L532.7,321.1 L532.8,321.9 L533.0,322.7 L533.1,323.5 L533.3,324.3 L533.4,325.2 L533.5,326.0 L533.7,326.8 L533.8,327.6 L534.0,328.4 L534.1,329.2 L534.3,330.0 L534.4,330.8 L534.6,331.6 L534.7,332.4 L534.9,333.2 L535.0,334.0 L535.2,334.8 L535.3,335.6 L535.5,336.4 L535.6,337.2 L535.8,338.0" fill="none" stroke="#bf8d55" stroke-width="1.95" stroke-linejoin="round"/>
<path d="M590.7,338.0 L590.9,337.5 L591.0,336.9 L591.2,336.4 L591.4,335.8 L591.5,335.3 L591.7,334.7 L591.9,334.2 L592.0,333.6 L592.2,333.1 L592.4,332.5 L592.5,332.0 L592.7,331.4 L592.8,330.9 L593.0,330.3 L593.1,329.8 L593.3,329.2 L593.4,328.7 L593.6,328.1 L593.7,327.6 L593.9,327.0 L594.1,326.5 L594.2,325.9 L594.4,325.4 L594.5,324.8 L594.7,324.3 L594.8,323.7 L595.0,323.2 L595.1,322.6 L595.3,322.1 L595.4,321.5 L595.6,321.0 L595.8,320.4 L595.9,319.9 L596.1,319.3 L596.3,318.8 L596.4,318.2 L596.6,317.7 L596.8,317.1 L596.9,316.6 L597.1,316.0 L597.3,315.5 L597.4,314.9 L597.6,314.4 L597.8,313.8 L597.9,313.3 L598.1,312.7 L598.2,312.2 L598.4,311.6 L598.5,311.1 L598.7,310.5 L598.9,310.0 L599.0,309.4 L599.2,308.9 L599.4,308.4 L599.7,307.8 L599.9,307.3 L600.2,306.8 L600.5,306.4 L600.9,305.9 L601.3,305.5 L601.7,305.1 L602.2,304.8 L602.8,304.6 L603.3,304.6 L603.9,304.8 L604.4,305.0 L604.9,305.3 L605.3,305.7 L605.7,306.0 L606.1,306.4 L606.5,306.9 L606.9,307.3 L607.2,307.8 L607.6,308.3 L608.0,308.8 L608.4,309.3 L608.9,309.6 L609.3,309.8 L609.8,309.8 L610.3,309.7 L610.9,309.4 L611.3,309.0 L611.8,308.6 L612.2,308.2 L612.6,307.7 L612.9,307.3 L613.3,306.9 L613.6,306.4 L613.9,306.0 L614.2,305.5 L614.6,305.0 L615.0,304.5 L615.4,304.0 L615.8,303.5 L616.2,303.0 L616.7,302.6 L617.1,302.3 L617.6,302.0 L618.1,301.9 L618.5,301.9 L619.0,302.0 L619.5,302.3 L619.9,302.6 L620.4,303.0 L620.8,303.5 L621.2,304.0 L621.6,304.5 L622.0,305.0 L622.4,305.5 L622.7,306.0 L623.0,306.4 L623.3,306.9 L623.7,307.3 L624.0,307.7 L624.4,308.2 L624.8,308.6 L625.3,309.0 L625.7,309.4 L626.3,309.7 L626.8,309.8 L627.3,309.8 L627.7,309.6 L628.2,309.3 L628.6,308.8 L629.0,308.3 L629.4,307.8 L629.7,307.3 L630.1,306.9 L630.5,306.4 L630.9,306.0 L631.3,305.7 L631.7,305.3 L632.2,305.0 L632.7,304.8 L633.3,304.6 L633.8,304.6 L634.4,304.8 L634.9,305.1 L635.3,305.5 L635.7,305.9 L636.1,306.4 L636.4,306.8 L636.7,307.3 L636.9,307.8 L637.2,308.4 L637.4,308.9 L637.6,309.4 L637.7,310.0 L637.9,310.5 L638.1,311.1 L638.2,311.6 L638.4,312.2 L638.5,312.7 L638.7,313.3 L638.8,313.8 L639.0,314.4 L639.2,314.9 L639.3,315.5 L639.5,316.0 L639.7,316.6 L639.8,317.1 L640.0,317.7 L640.2,318.2 L640.3,318.8 L640.5,319.3 L640.7,319.9 L640.8,320.4 L641.0,321.0 L641.2,321.5 L641.3,322.1 L641.5,322.6 L641.6,323.2 L641.8,323.7 L641.9,324.3 L642.1,324.8 L642.2,325.4 L642.4,325.9 L642.5,326.5 L642.7,327.0 L642.9,327.6 L643.0,328.1 L643.2,328.7 L643.3,329.2 L643.5,329.8 L643.6,330.3 L643.8,330.9 L643.9,331.4 L644.1,332.0 L644.2,332.5 L644.4,333.1 L644.6,333.6 L644.7,334.2 L644.9,334.7 L645.1,335.3 L645.2,335.8 L645.4,336.4 L645.6,336.9 L645.7,337.5 L645.9,338.0" fill="none" stroke="#fbe9cf" stroke-width="4.2" stroke-linejoin="round"/>
<path d="M590.7,338.0 L590.9,337.5 L591.0,336.9 L591.2,336.4 L591.4,335.8 L591.5,335.3 L591.7,334.7 L591.9,334.2 L592.0,333.6 L592.2,333.1 L592.4,332.5 L592.5,332.0 L592.7,331.4 L592.8,330.9 L593.0,330.3 L593.1,329.8 L593.3,329.2 L593.4,328.7 L593.6,328.1 L593.7,327.6 L593.9,327.0 L594.1,326.5 L594.2,325.9 L594.4,325.4 L594.5,324.8 L594.7,324.3 L594.8,323.7 L595.0,323.2 L595.1,322.6 L595.3,322.1 L595.4,321.5 L595.6,321.0 L595.8,320.4 L595.9,319.9 L596.1,319.3 L596.3,318.8 L596.4,318.2 L596.6,317.7 L596.8,317.1 L596.9,316.6 L597.1,316.0 L597.3,315.5 L597.4,314.9 L597.6,314.4 L597.8,313.8 L597.9,313.3 L598.1,312.7 L598.2,312.2 L598.4,311.6 L598.5,311.1 L598.7,310.5 L598.9,310.0 L599.0,309.4 L599.2,308.9 L599.4,308.4 L599.7,307.8 L599.9,307.3 L600.2,306.8 L600.5,306.4 L600.9,305.9 L601.3,305.5 L601.7,305.1 L602.2,304.8 L602.8,304.6 L603.3,304.6 L603.9,304.8 L604.4,305.0 L604.9,305.3 L605.3,305.7 L605.7,306.0 L606.1,306.4 L606.5,306.9 L606.9,307.3 L607.2,307.8 L607.6,308.3 L608.0,308.8 L608.4,309.3 L608.9,309.6 L609.3,309.8 L609.8,309.8 L610.3,309.7 L610.9,309.4 L611.3,309.0 L611.8,308.6 L612.2,308.2 L612.6,307.7 L612.9,307.3 L613.3,306.9 L613.6,306.4 L613.9,306.0 L614.2,305.5 L614.6,305.0 L615.0,304.5 L615.4,304.0 L615.8,303.5 L616.2,303.0 L616.7,302.6 L617.1,302.3 L617.6,302.0 L618.1,301.9 L618.5,301.9 L619.0,302.0 L619.5,302.3 L619.9,302.6 L620.4,303.0 L620.8,303.5 L621.2,304.0 L621.6,304.5 L622.0,305.0 L622.4,305.5 L622.7,306.0 L623.0,306.4 L623.3,306.9 L623.7,307.3 L624.0,307.7 L624.4,308.2 L624.8,308.6 L625.3,309.0 L625.7,309.4 L626.3,309.7 L626.8,309.8 L627.3,309.8 L627.7,309.6 L628.2,309.3 L628.6,308.8 L629.0,308.3 L629.4,307.8 L629.7,307.3 L630.1,306.9 L630.5,306.4 L630.9,306.0 L631.3,305.7 L631.7,305.3 L632.2,305.0 L632.7,304.8 L633.3,304.6 L633.8,304.6 L634.4,304.8 L634.9,305.1 L635.3,305.5 L635.7,305.9 L636.1,306.4 L636.4,306.8 L636.7,307.3 L636.9,307.8 L637.2,308.4 L637.4,308.9 L637.6,309.4 L637.7,310.0 L637.9,310.5 L638.1,311.1 L638.2,311.6 L638.4,312.2 L638.5,312.7 L638.7,313.3 L638.8,313.8 L639.0,314.4 L639.2,314.9 L639.3,315.5 L639.5,316.0 L639.7,316.6 L639.8,317.1 L640.0,317.7 L640.2,318.2 L640.3,318.8 L640.5,319.3 L640.7,319.9 L640.8,320.4 L641.0,321.0 L641.2,321.5 L641.3,322.1 L641.5,322.6 L641.6,323.2 L641.8,323.7 L641.9,324.3 L642.1,324.8 L642.2,325.4 L642.4,325.9 L642.5,326.5 L642.7,327.0 L642.9,327.6 L643.0,328.1 L643.2,328.7 L643.3,329.2 L643.5,329.8 L643.6,330.3 L643.8,330.9 L643.9,331.4 L644.1,332.0 L644.2,332.5 L644.4,333.1 L644.6,333.6 L644.7,334.2 L644.9,334.7 L645.1,335.3 L645.2,335.8 L645.4,336.4 L645.6,336.9 L645.7,337.5 L645.9,338.0" fill="none" stroke="#bf8d55" stroke-width="1.95" stroke-linejoin="round"/>
<path d="M700.8,338.0 L701.0,337.7 L701.2,337.3 L701.4,337.0 L701.6,336.7 L701.8,336.3 L702.0,336.0 L702.2,335.7 L702.4,335.3 L702.6,335.0 L702.8,334.7 L703.0,334.3 L703.1,334.0 L703.3,333.6 L703.5,333.3 L703.7,333.0 L703.9,332.6 L704.1,332.3 L704.3,331.9 L704.4,331.6 L704.6,331.2 L704.8,330.9 L705.0,330.6 L705.2,330.2 L705.4,329.9 L705.6,329.6 L705.8,329.2 L706.0,328.9 L706.1,328.5 L706.3,328.2 L706.5,327.9 L706.7,327.5 L706.9,327.2 L707.1,326.9 L707.3,326.5 L707.5,326.2 L707.7,325.9 L707.9,325.5 L708.1,325.2 L708.3,324.9 L708.5,324.5 L708.7,324.2 L708.9,323.9 L709.1,323.5 L709.3,323.2 L709.5,322.9 L709.8,322.6 L710.1,322.3 L710.4,322.1 L710.7,321.8 L711.0,321.6 L711.3,321.4 L711.7,321.3 L712.1,321.1 L712.4,321.1 L712.8,321.0 L713.2,321.0 L713.6,321.0 L714.0,321.1 L714.3,321.1 L714.7,321.2 L715.1,321.4 L715.4,321.5 L715.8,321.7 L716.1,321.9 L716.4,322.1 L716.8,322.3 L717.1,322.5 L717.4,322.7 L717.8,322.9 L718.1,323.1 L718.5,323.3 L718.8,323.5 L719.2,323.6 L719.5,323.6 L719.9,323.7 L720.3,323.6 L720.7,323.5 L721.0,323.4 L721.4,323.2 L721.8,323.1 L722.1,322.9 L722.5,322.7 L722.8,322.5 L723.1,322.3 L723.4,322.1 L723.7,321.8 L724.0,321.6 L724.4,321.4 L724.7,321.2 L725.0,321.0 L725.3,320.7 L725.7,320.5 L726.0,320.3 L726.4,320.1 L726.8,320.0 L727.1,319.8 L727.5,319.7 L727.8,319.6 L728.2,319.6 L728.6,319.6 L729.0,319.6 L729.3,319.7 L729.7,319.8 L730.0,320.0 L730.4,320.1 L730.8,320.3 L731.1,320.5 L731.5,320.7 L731.8,321.0 L732.1,321.2 L732.4,321.4 L732.8,321.6 L733.1,321.8 L733.4,322.1 L733.7,322.3 L734.0,322.5 L734.3,322.7 L734.7,322.9 L735.0,323.1 L735.4,323.2 L735.8,323.4 L736.1,323.5 L736.5,323.6 L736.9,323.7 L737.3,323.6 L737.6,323.6 L738.0,323.5 L738.3,323.3 L738.7,323.1 L739.0,322.9 L739.4,322.7 L739.7,322.5 L740.0,322.3 L740.4,322.1 L740.7,321.9 L741.0,321.7 L741.4,321.5 L741.7,321.4 L742.1,321.2 L742.5,321.1 L742.8,321.1 L743.2,321.0 L743.6,321.0 L744.0,321.0 L744.4,321.1 L744.7,321.1 L745.1,321.3 L745.5,321.4 L745.8,321.6 L746.1,321.8 L746.4,322.1 L746.7,322.3 L747.0,322.6 L747.3,322.9 L747.5,323.2 L747.7,323.5 L747.9,323.9 L748.1,324.2 L748.3,324.5 L748.5,324.9 L748.7,325.2 L748.9,325.5 L749.1,325.9 L749.3,326.2 L749.5,326.5 L749.7,326.9 L749.9,327.2 L750.1,327.5 L750.3,327.9 L750.5,328.2 L750.7,328.5 L750.8,328.9 L751.0,329.2 L751.2,329.6 L751.4,329.9 L751.6,330.2 L751.8,330.6 L752.0,330.9 L752.2,331.2 L752.4,331.6 L752.5,331.9 L752.7,332.3 L752.9,332.6 L753.1,333.0 L753.3,333.3 L753.5,333.6 L753.7,334.0 L753.8,334.3 L754.0,334.7 L754.2,335.0 L754.4,335.3 L754.6,335.7 L754.8,336.0 L755.0,336.3 L755.2,336.7 L755.4,337.0 L755.6,337.3 L755.8,337.7 L756.0,338.0" fill="none" stroke="#fbe9cf" stroke-width="4.2" stroke-linejoin="round"/>
<path d="M700.8,338.0 L701.0,337.7 L701.2,337.3 L701.4,337.0 L701.6,336.7 L701.8,336.3 L702.0,336.0 L702.2,335.7 L702.4,335.3 L702.6,335.0 L702.8,334.7 L703.0,334.3 L703.1,334.0 L703.3,333.6 L703.5,333.3 L703.7,333.0 L703.9,332.6 L704.1,332.3 L704.3,331.9 L704.4,331.6 L704.6,331.2 L704.8,330.9 L705.0,330.6 L705.2,330.2 L705.4,329.9 L705.6,329.6 L705.8,329.2 L706.0,328.9 L706.1,328.5 L706.3,328.2 L706.5,327.9 L706.7,327.5 L706.9,327.2 L707.1,326.9 L707.3,326.5 L707.5,326.2 L707.7,325.9 L707.9,325.5 L708.1,325.2 L708.3,324.9 L708.5,324.5 L708.7,324.2 L708.9,323.9 L709.1,323.5 L709.3,323.2 L709.5,322.9 L709.8,322.6 L710.1,322.3 L710.4,322.1 L710.7,321.8 L711.0,321.6 L711.3,321.4 L711.7,321.3 L712.1,321.1 L712.4,321.1 L712.8,321.0 L713.2,321.0 L713.6,321.0 L714.0,321.1 L714.3,321.1 L714.7,321.2 L715.1,321.4 L715.4,321.5 L715.8,321.7 L716.1,321.9 L716.4,322.1 L716.8,322.3 L717.1,322.5 L717.4,322.7 L717.8,322.9 L718.1,323.1 L718.5,323.3 L718.8,323.5 L719.2,323.6 L719.5,323.6 L719.9,323.7 L720.3,323.6 L720.7,323.5 L721.0,323.4 L721.4,323.2 L721.8,323.1 L722.1,322.9 L722.5,322.7 L722.8,322.5 L723.1,322.3 L723.4,322.1 L723.7,321.8 L724.0,321.6 L724.4,321.4 L724.7,321.2 L725.0,321.0 L725.3,320.7 L725.7,320.5 L726.0,320.3 L726.4,320.1 L726.8,320.0 L727.1,319.8 L727.5,319.7 L727.8,319.6 L728.2,319.6 L728.6,319.6 L729.0,319.6 L729.3,319.7 L729.7,319.8 L730.0,320.0 L730.4,320.1 L730.8,320.3 L731.1,320.5 L731.5,320.7 L731.8,321.0 L732.1,321.2 L732.4,321.4 L732.8,321.6 L733.1,321.8 L733.4,322.1 L733.7,322.3 L734.0,322.5 L734.3,322.7 L734.7,322.9 L735.0,323.1 L735.4,323.2 L735.8,323.4 L736.1,323.5 L736.5,323.6 L736.9,323.7 L737.3,323.6 L737.6,323.6 L738.0,323.5 L738.3,323.3 L738.7,323.1 L739.0,322.9 L739.4,322.7 L739.7,322.5 L740.0,322.3 L740.4,322.1 L740.7,321.9 L741.0,321.7 L741.4,321.5 L741.7,321.4 L742.1,321.2 L742.5,321.1 L742.8,321.1 L743.2,321.0 L743.6,321.0 L744.0,321.0 L744.4,321.1 L744.7,321.1 L745.1,321.3 L745.5,321.4 L745.8,321.6 L746.1,321.8 L746.4,322.1 L746.7,322.3 L747.0,322.6 L747.3,322.9 L747.5,323.2 L747.7,323.5 L747.9,323.9 L748.1,324.2 L748.3,324.5 L748.5,324.9 L748.7,325.2 L748.9,325.5 L749.1,325.9 L749.3,326.2 L749.5,326.5 L749.7,326.9 L749.9,327.2 L750.1,327.5 L750.3,327.9 L750.5,328.2 L750.7,328.5 L750.8,328.9 L751.0,329.2 L751.2,329.6 L751.4,329.9 L751.6,330.2 L751.8,330.6 L752.0,330.9 L752.2,331.2 L752.4,331.6 L752.5,331.9 L752.7,332.3 L752.9,332.6 L753.1,333.0 L753.3,333.3 L753.5,333.6 L753.7,334.0 L753.8,334.3 L754.0,334.7 L754.2,335.0 L754.4,335.3 L754.6,335.7 L754.8,336.0 L755.0,336.3 L755.2,336.7 L755.4,337.0 L755.6,337.3 L755.8,337.7 L756.0,338.0" fill="none" stroke="#bf8d55" stroke-width="1.95" stroke-linejoin="round"/>
<path d="M119.50,331.40 C119.12,331.93 117.35,333.60 117.20,334.60 C117.05,335.60 117.78,336.67 118.60,337.40 C119.42,338.13 121.27,338.30 122.10,339.00 C122.93,339.70 123.82,340.68 123.60,341.60 C123.38,342.52 121.27,344.02 120.80,344.50" fill="none" stroke="#555555" stroke-width="1.4" stroke-linecap="round"/>
<path d="M123.50,331.40 C123.12,331.93 121.35,333.60 121.20,334.60 C121.05,335.60 121.78,336.67 122.60,337.40 C123.42,338.13 125.27,338.30 126.10,339.00 C126.93,339.70 127.82,340.68 127.60,341.60 C127.38,342.52 125.27,344.02 124.80,344.50" fill="none" stroke="#555555" stroke-width="1.4" stroke-linecap="round"/>
<path d="M228.50,331.40 C228.12,331.93 226.35,333.60 226.20,334.60 C226.05,335.60 226.78,336.67 227.60,337.40 C228.42,338.13 230.27,338.30 231.10,339.00 C231.93,339.70 232.82,340.68 232.60,341.60 C232.38,342.52 230.27,344.02 229.80,344.50" fill="none" stroke="#6e5e68" stroke-width="1.4" stroke-linecap="round"/>
<path d="M232.50,331.40 C232.12,331.93 230.35,333.60 230.20,334.60 C230.05,335.60 230.78,336.67 231.60,337.40 C232.42,338.13 234.27,338.30 235.10,339.00 C235.93,339.70 236.82,340.68 236.60,341.60 C236.38,342.52 234.27,344.02 233.80,344.50" fill="none" stroke="#6e5e68" stroke-width="1.4" stroke-linecap="round"/>
<path d="M337.50,331.40 C337.12,331.93 335.35,333.60 335.20,334.60 C335.05,335.60 335.78,336.67 336.60,337.40 C337.42,338.13 339.27,338.30 340.10,339.00 C340.93,339.70 341.82,340.68 341.60,341.60 C341.38,342.52 339.27,344.02 338.80,344.50" fill="none" stroke="#545454" stroke-width="1.4" stroke-linecap="round"/>
<path d="M341.50,331.40 C341.12,331.93 339.35,333.60 339.20,334.60 C339.05,335.60 339.78,336.67 340.60,337.40 C341.42,338.13 343.27,338.30 344.10,339.00 C344.93,339.70 345.82,340.68 345.60,341.60 C345.38,342.52 343.27,344.02 342.80,344.50" fill="none" stroke="#545454" stroke-width="1.4" stroke-linecap="round"/>
<path d="M451.50,331.40 C451.12,331.93 449.35,333.60 449.20,334.60 C449.05,335.60 449.78,336.67 450.60,337.40 C451.42,338.13 453.27,338.30 454.10,339.00 C454.93,339.70 455.82,340.68 455.60,341.60 C455.38,342.52 453.27,344.02 452.80,344.50" fill="none" stroke="#6c5c66" stroke-width="1.4" stroke-linecap="round"/>
<path d="M455.50,331.40 C455.12,331.93 453.35,333.60 453.20,334.60 C453.05,335.60 453.78,336.67 454.60,337.40 C455.42,338.13 457.27,338.30 458.10,339.00 C458.93,339.70 459.82,340.68 459.60,341.60 C459.38,342.52 457.27,344.02 456.80,344.50" fill="none" stroke="#6c5c66" stroke-width="1.4" stroke-linecap="round"/>
<path d="M563.50,331.40 C563.12,331.93 561.35,333.60 561.20,334.60 C561.05,335.60 561.78,336.67 562.60,337.40 C563.42,338.13 565.27,338.30 566.10,339.00 C566.93,339.70 567.82,340.68 567.60,341.60 C567.38,342.52 565.27,344.02 564.80,344.50" fill="none" stroke="#565656" stroke-width="1.4" stroke-linecap="round"/>
<path d="M567.50,331.40 C567.12,331.93 565.35,333.60 565.20,334.60 C565.05,335.60 565.78,336.67 566.60,337.40 C567.42,338.13 569.27,338.30 570.10,339.00 C570.93,339.70 571.82,340.68 571.60,341.60 C571.38,342.52 569.27,344.02 568.80,344.50" fill="none" stroke="#565656" stroke-width="1.4" stroke-linecap="round"/>
<path d="M674.00,331.40 C673.62,331.93 671.85,333.60 671.70,334.60 C671.55,335.60 672.28,336.67 673.10,337.40 C673.92,338.13 675.77,338.30 676.60,339.00 C677.43,339.70 678.32,340.68 678.10,341.60 C677.88,342.52 675.77,344.02 675.30,344.50" fill="none" stroke="#585858" stroke-width="1.4" stroke-linecap="round"/>
<path d="M678.00,331.40 C677.62,331.93 675.85,333.60 675.70,334.60 C675.55,335.60 676.28,336.67 677.10,337.40 C677.92,338.13 679.77,338.30 680.60,339.00 C681.43,339.70 682.32,340.68 682.10,341.60 C681.88,342.52 679.77,344.02 679.30,344.50" fill="none" stroke="#585858" stroke-width="1.4" stroke-linecap="round"/>
<line x1="0" y1="338.2" x2="793" y2="338.2" stroke="#141414" stroke-width="2.0"/>
<polyline points="787.2,333.2 794.2,338.1 787.2,343.0" fill="none" stroke="#141414" stroke-width="2.0"/>
<line x1="397.9" y1="338" x2="397.9" y2="223.5" stroke="#262626" stroke-width="2.0"/>
<polyline points="392.8,230.7 397.9,222.9 403.0,230.7" fill="none" stroke="#262626" stroke-width="2.0"/>
<line x1="67.7" y1="333" x2="67.7" y2="343.2" stroke="#141414" stroke-width="2.0"/>
<line x1="178.4" y1="333" x2="178.4" y2="343.2" stroke="#141414" stroke-width="2.0"/>
<line x1="287.5" y1="333" x2="287.5" y2="343.2" stroke="#141414" stroke-width="2.0"/>
<line x1="507.8" y1="333" x2="507.8" y2="343.2" stroke="#141414" stroke-width="2.0"/>
<line x1="617.6" y1="333" x2="617.6" y2="343.2" stroke="#141414" stroke-width="2.0"/>
<line x1="727.8" y1="333" x2="727.8" y2="343.2" stroke="#141414" stroke-width="2.0"/>
<line x1="370.1" y1="338" x2="370.1" y2="343.2" stroke="#141414" stroke-width="2.0"/>
<line x1="425.4" y1="338" x2="425.4" y2="343.2" stroke="#141414" stroke-width="2.0"/>
<line x1="35.5" y1="373.3" x2="100.5" y2="373.3" stroke="#141414" stroke-width="1.6"/>
<polyline points="41.3,369.6 34.7,373.3 41.3,377.0" fill="none" stroke="#141414" stroke-width="1.6" stroke-linejoin="round" stroke-linecap="round"/>
<polyline points="94.7,369.6 101.3,373.3 94.7,377.0" fill="none" stroke="#141414" stroke-width="1.6" stroke-linejoin="round" stroke-linecap="round"/>
<line x1="145.5" y1="373.3" x2="210.5" y2="373.3" stroke="#141414" stroke-width="1.6"/>
<polyline points="151.3,369.6 144.7,373.3 151.3,377.0" fill="none" stroke="#141414" stroke-width="1.6" stroke-linejoin="round" stroke-linecap="round"/>
<polyline points="204.7,369.6 211.3,373.3 204.7,377.0" fill="none" stroke="#141414" stroke-width="1.6" stroke-linejoin="round" stroke-linecap="round"/>
<line x1="255.5" y1="373.3" x2="320.5" y2="373.3" stroke="#141414" stroke-width="1.6"/>
<polyline points="261.3,369.6 254.7,373.3 261.3,377.0" fill="none" stroke="#141414" stroke-width="1.6" stroke-linejoin="round" stroke-linecap="round"/>
<polyline points="314.7,369.6 321.3,373.3 314.7,377.0" fill="none" stroke="#141414" stroke-width="1.6" stroke-linejoin="round" stroke-linecap="round"/>
<line x1="365.5" y1="373.3" x2="430.5" y2="373.3" stroke="#141414" stroke-width="1.6"/>
<polyline points="371.3,369.6 364.7,373.3 371.3,377.0" fill="none" stroke="#141414" stroke-width="1.6" stroke-linejoin="round" stroke-linecap="round"/>
<polyline points="424.7,369.6 431.3,373.3 424.7,377.0" fill="none" stroke="#141414" stroke-width="1.6" stroke-linejoin="round" stroke-linecap="round"/>
<line x1="475.5" y1="373.3" x2="540.5" y2="373.3" stroke="#141414" stroke-width="1.6"/>
<polyline points="481.3,369.6 474.7,373.3 481.3,377.0" fill="none" stroke="#141414" stroke-width="1.6" stroke-linejoin="round" stroke-linecap="round"/>
<polyline points="534.7,369.6 541.3,373.3 534.7,377.0" fill="none" stroke="#141414" stroke-width="1.6" stroke-linejoin="round" stroke-linecap="round"/>
<line x1="585.5" y1="373.3" x2="650.5" y2="373.3" stroke="#141414" stroke-width="1.6"/>
<polyline points="591.3,369.6 584.7,373.3 591.3,377.0" fill="none" stroke="#141414" stroke-width="1.6" stroke-linejoin="round" stroke-linecap="round"/>
<polyline points="644.7,369.6 651.3,373.3 644.7,377.0" fill="none" stroke="#141414" stroke-width="1.6" stroke-linejoin="round" stroke-linecap="round"/>
<line x1="695.5" y1="373.3" x2="760.5" y2="373.3" stroke="#141414" stroke-width="1.6"/>
<polyline points="701.3,369.6 694.7,373.3 701.3,377.0" fill="none" stroke="#141414" stroke-width="1.6" stroke-linejoin="round" stroke-linecap="round"/>
<polyline points="754.7,369.6 761.3,373.3 754.7,377.0" fill="none" stroke="#141414" stroke-width="1.6" stroke-linejoin="round" stroke-linecap="round"/>
<text class="t b" x="372" y="9" font-size="12">M(f)</text>
<text class="t b" x="364.4" y="171.8" font-size="12">-<tspan dx="0.6">B</tspan></text>
<text class="t b" x="421.5" y="171.8" font-size="12">B</text>
<text class="t b" x="484.3" y="171.6" font-size="12">f</text>
<text class="t r" x="386.5" y="191.5" font-size="16">(a)</text>

<text class="t b" x="364.6" y="220.1" font-size="12">V<tspan font-size="8" dx="-0.6" dy="3.3" fill="#222">out</tspan><tspan dy="-3.3" font-size="12.5">(f)</tspan></text>
<text class="t b" x="794.5" y="353.2" font-size="12">f</text>

<text class="t b" x="58.5" y="357.8" font-size="11.5" letter-spacing="0.55">-5f<tspan font-size="7" dx="-0.7" dy="2.8" fill="#555">c</tspan></text>
<text class="t b" x="169.6" y="357.8" font-size="11.5" letter-spacing="0.55">-3f<tspan font-size="7" dx="-0.7" dy="2.8" fill="#555">c</tspan></text>
<text class="t b" x="280.2" y="357.8" font-size="11.5" letter-spacing="0.55">-f<tspan font-size="7" dx="-0.7" dy="2.8" fill="#555">c</tspan></text>
<text class="t b" x="504.2" y="357.8" font-size="11.5" letter-spacing="0.55">f<tspan font-size="7" dx="-0.7" dy="2.8" fill="#555">c</tspan></text>
<text class="t b" x="611.4" y="357.8" font-size="11.5" letter-spacing="0.55">3f<tspan font-size="7" dx="-0.7" dy="2.8" fill="#555">c</tspan></text>
<text class="t b" x="721.4" y="357.8" font-size="11.5" letter-spacing="0.55">5f<tspan font-size="7" dx="-0.7" dy="2.8" fill="#555">c</tspan></text>
<text class="t r" x="364.3" y="360.8" font-size="12">-<tspan dx="1.1">B</tspan></text>
<text class="t r" x="421.4" y="360.8" font-size="12">B</text>

<g class="t r" font-size="12" text-anchor="middle">
<text x="68" y="389.1">2B</text>
<text x="178.3" y="389.1">2B</text>
<text x="287.9" y="389.1">2B</text>
<text x="398" y="389.1">2B</text>
<text x="508" y="389.1">2B</text>
<text x="618" y="389.1">2B</text>
<text x="728" y="389.1">2B</text>
</g>
<text class="t r" x="386.3" y="423.6" font-size="16">(b)</text>
</svg>
</body></html>
